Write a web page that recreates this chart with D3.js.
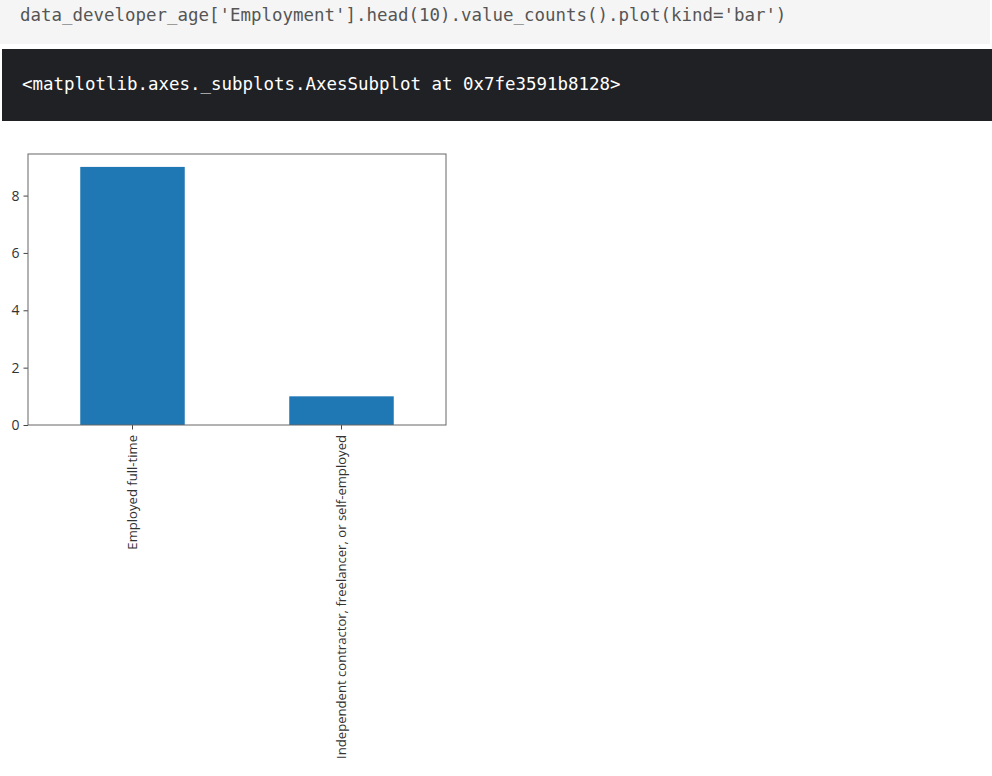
<!DOCTYPE html>
<html>
<head>
<meta charset="utf-8">
<script src="https://cdn.jsdelivr.net/npm/d3@7"></script>
<style>
  html, body { margin: 0; padding: 0; background: #ffffff; }
  svg { display: block; }
</style>
</head>
<body>
<svg id="chart" width="992" height="776"></svg>
<script>
const codeLine = "data_developer_age['Employment'].head(10).value_counts().plot(kind='bar')";
const outputLine = "<matplotlib.axes._subplots.AxesSubplot at 0x7fe3591b8128>";
const categories = ["Employed full-time", "Independent contractor, freelancer, or self-employed"];
const counts = [9, 1];
const yTicks = [0, 2, 4, 6, 8];

const svg = d3.select("#chart");

// Code cell
svg.append("rect").attr("x", 0).attr("y", 0).attr("width", 990).attr("height", 44).attr("fill", "#f5f5f5");
svg.append("text").attr("x", 20).attr("y", 21)
  .attr("font-family", "'DejaVu Sans Mono', monospace").attr("font-size", 17.45)
  .attr("fill", "#555").text(codeLine);

// Output cell
svg.append("rect").attr("x", 2).attr("y", 49).attr("width", 990).attr("height", 72).attr("fill", "#202124");
svg.append("text").attr("x", 22).attr("y", 90)
  .attr("font-family", "'DejaVu Sans Mono', monospace").attr("font-size", 17.45)
  .attr("fill", "#ffffff").text(outputLine);

// Chart
const mLeft = 28, mRight = 446, mTop = 154, mBottom = 425;
const x = d3.scaleBand().domain(categories).range([mLeft, mRight]).paddingInner(0.5).paddingOuter(0.25);
const y = d3.scaleLinear().domain([0, d3.max(counts) * 1.05]).range([mBottom, mTop]);

const g = svg.append("g");
g.selectAll("rect.bar").data(categories).join("rect")
  .attr("class", "bar")
  .attr("x", d => x(d))
  .attr("width", x.bandwidth())
  .attr("y", (d, i) => y(counts[i]))
  .attr("height", (d, i) => y(0) - y(counts[i]))
  .attr("fill", "#1f77b4");

const yAxis = svg.append("g").attr("transform", `translate(${mLeft},0)`)
  .call(d3.axisLeft(y).tickValues(yTicks).tickFormat(d3.format("d")).tickSize(4.5).tickPadding(4));
yAxis.select(".domain").remove();
yAxis.selectAll("line").attr("stroke", "#444");
yAxis.selectAll("text").attr("font-family", "'Open Sans', sans-serif").attr("font-size", 14).attr("fill", "#333");

const xAxis = svg.append("g").attr("transform", `translate(0,${mBottom})`)
  .call(d3.axisBottom(x).tickSize(4.5).tickPadding(5));
xAxis.select(".domain").remove();
xAxis.selectAll("line").attr("stroke", "#444");
xAxis.selectAll("text")
  .attr("font-family", "'Open Sans', sans-serif").attr("font-size", 13.1).attr("fill", "#333")
  .attr("transform", "rotate(-90)")
  .attr("text-anchor", "end")
  .attr("x", -10).attr("y", 0).attr("dy", "0.35em");

// Frame
svg.append("rect").attr("x", mLeft).attr("y", mTop).attr("width", mRight - mLeft).attr("height", mBottom - mTop)
  .attr("fill", "none").attr("stroke", "#666").attr("stroke-width", 1);
</script>
</body>
</html>
